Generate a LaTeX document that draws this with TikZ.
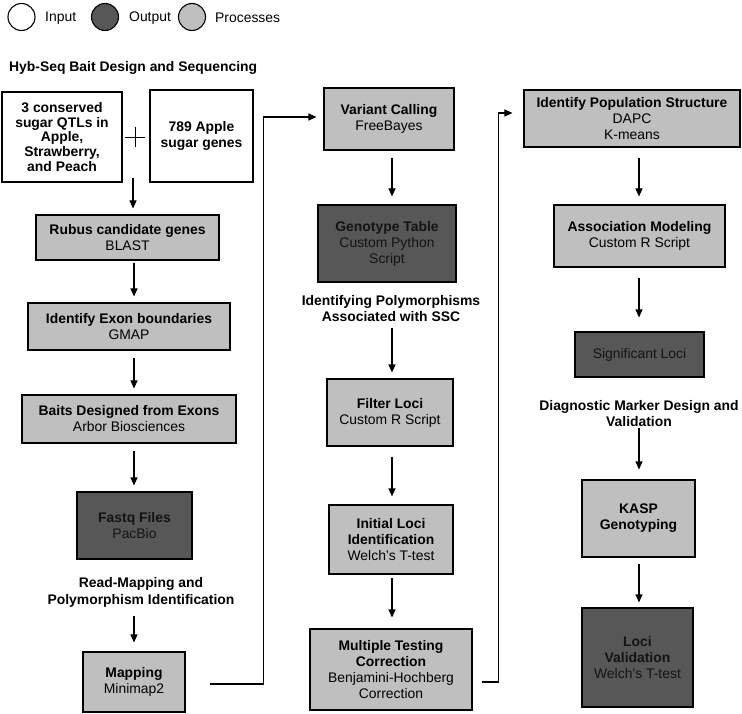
\documentclass[tikz,border=0pt]{standalone}
\usepackage{fontspec}
\setmainfont{Liberation Sans}
\usetikzlibrary{arrows.meta}
\definecolor{lightfill}{RGB}{191,191,191}
\definecolor{darkfill}{RGB}{87,87,87}
\definecolor{darktext}{RGB}{20,20,20}
\begin{document}
\begin{tikzpicture}[x=1pt,y=-1pt,
  box/.style={draw=black, line width=1.1pt, align=center, inner sep=0pt, font=\fontsize{13.9}{16}\selectfont},
  sz/.style 2 args={minimum width=#1, minimum height=#2},
  inbox/.style={box, fill=white},
  procbox/.style={box, fill=lightfill},
  outbox/.style={box, fill=darkfill, text=darktext},
  lbl/.style={align=center, inner sep=0pt, font=\fontsize{13.9}{16.5}\selectfont\bfseries},
  legtxt/.style={anchor=west, inner sep=0pt, font=\fontsize{13.9}{16}\selectfont},
  legc/.style={circle, draw=black, line width=1.1pt, minimum size=27pt, inner sep=0pt},
  arr/.style={-{Triangle[length=8pt,width=7pt]}, line width=1.1pt, shorten <=7pt, shorten >=6pt},
  link/.style={line width=1.1pt},
]
\useasboundingbox (0,0) rectangle (742,714);

% legend
\node[legc, fill=white] (cin) at (21.5,17) {};
\node[legtxt] (tin) at (45,18) {Input};
\node[legc, fill=darkfill] (cout) at (105,17) {};
\node[legtxt] (tout) at (129,18) {Output};
\node[legc, fill=lightfill] (cproc) at (192,17) {};
\node[legtxt] (tproc) at (215,18) {Processes};

% section titles
\node[lbl, anchor=west] (t1) at (9,68) {Hyb-Seq Bait Design and Sequencing};
\node[lbl] (t2) at (141,592.5) {Read-Mapping and\\Polymorphism Identification};
\node[lbl] (t3) at (391,308.5) {Identifying Polymorphisms\\Associated with SSC};
\node[lbl] (t4) at (639,413.5) {Diagnostic Marker Design and\\Validation};

% left column
\node[inbox, sz={120pt}{90pt}, font=\fontsize{13.9}{14.6}\selectfont\bfseries] (in1) at (62,137)
  {3 conserved\\sugar QTLs in\\Apple,\\Strawberry,\\and Peach};
\node[inbox, sz={103pt}{92pt}, font=\fontsize{13.9}{16}\selectfont\bfseries] (in2) at (201.5,136)
  {789 Apple\\sugar genes};
\coordinate (plus) at (135,137);
\draw[line width=0.9pt] ([xshift=-10pt]plus) -- ([xshift=10pt]plus);
\draw[line width=0.9pt] ([yshift=-10pt]plus) -- ([yshift=10pt]plus);

\node[procbox, sz={183pt}{45pt}] (rubus) at (127.5,237.5) {\textbf{Rubus candidate genes}\\BLAST};
\node[procbox, sz={202pt}{47pt}] (exon) at (129,326.5) {\textbf{Identify Exon boundaries}\\GMAP};
\node[procbox, sz={214pt}{48pt}] (baits) at (129,419) {\textbf{Baits Designed from Exons}\\Arbor Biosciences};
\node[outbox, sz={115pt}{67pt}] (fastq) at (134.5,525.5) {\textbf{Fastq Files}\\PacBio};
\node[procbox, sz={102pt}{60pt}] (mapping) at (134,682) {\textbf{Mapping}\\Minimap2};

% middle column
\node[procbox, sz={130pt}{62pt}] (variant) at (389,119) {\textbf{Variant Calling}\\FreeBayes};
\node[outbox, sz={138pt}{77pt}] (geno) at (387,243.5) {\textbf{Genotype Table}\\Custom Python\\Script};
\node[procbox, sz={126pt}{67pt}] (filter) at (390,412.5) {\textbf{Filter Loci}\\Custom R Script};
\node[procbox, sz={124pt}{69pt}] (initial) at (391,539.5) {\textbf{Initial Loci}\\\textbf{Identification}\\Welch's T-test};
\node[procbox, sz={162pt}{81pt}] (multi) at (391,669.5) {\textbf{Multiple Testing}\\\textbf{Correction}\\Benjamini-Hochberg\\Correction};

% right column
\node[procbox, sz={216pt}{57pt}] (pop) at (632,118.5) {\textbf{Identify Population Structure}\\DAPC\\K-means};
\node[procbox, sz={171pt}{62pt}] (assoc) at (639.5,236) {\textbf{Association Modeling}\\Custom R Script};
\node[outbox, sz={129pt}{45pt}] (sig) at (639.5,354.5) {Significant Loci};
\node[procbox, sz={113pt}{77pt}] (kasp) at (638.5,518.5) {\textbf{KASP}\\\textbf{Genotyping}};
\node[outbox, sz={111pt}{99pt}] (valid) at (637.5,657.5) {\textbf{Loci}\\\textbf{Validation}\\Welch's T-test};

% column x references
\coordinate (cA) at (134,0);
\coordinate (cB) at (392,0);
\coordinate (cC) at (639,0);
\coordinate (join) at (133,178);

% left arrows
\draw[arr, shorten <=0pt] (join) -- (join |- rubus.north);
\draw[arr, shorten <=2pt] (rubus.south -| cA) -- (exon.north -| cA);
\draw[arr] (exon.south -| cA) -- (baits.north -| cA);
\draw[arr] (baits.south -| cA) -- (fastq.north -| cA);
\draw[arr, shorten <=9pt, shorten >=9pt] (t2.south -| cA) -- (mapping.north -| cA);

% middle arrows
\draw[arr, shorten >=8pt] (variant.south -| cB) -- (geno.north -| cB);
\draw[arr, shorten <=6pt] (t3.south -| cB) -- (filter.north -| cB);
\draw[arr, shorten <=10pt, shorten >=8pt] (filter.south -| cB) -- (initial.north -| cB);
\draw[arr, shorten <=3pt, shorten >=11pt] (initial.south -| cB) -- (multi.north -| cB);

% right arrows
\draw[arr, shorten <=10pt, shorten >=8pt] (pop.south -| cC) -- (assoc.north -| cC);
\draw[arr, shorten <=10pt, shorten >=14pt] (assoc.south -| cC) -- (sig.north -| cC);
\draw[arr, shorten <=1pt, shorten >=10pt] (t4.south -| cC) -- (kasp.north -| cC);
\draw[arr, shorten <=6pt, shorten >=5pt] (kasp.south -| cC) -- (valid.north -| cC);

% long connectors
\draw[arr, shorten <=0pt, shorten >=7pt] ([xshift=24pt,yshift=-2pt]mapping.east) -- ++(54,0) |- ([yshift=2pt]variant.west);
\draw[arr, shorten <=0pt, shorten >=11pt] ([xshift=9pt,yshift=-12.5pt]multi.east) -- ++(17,0) |- ([yshift=5.5pt]pop.west);
\end{tikzpicture}
\end{document}
